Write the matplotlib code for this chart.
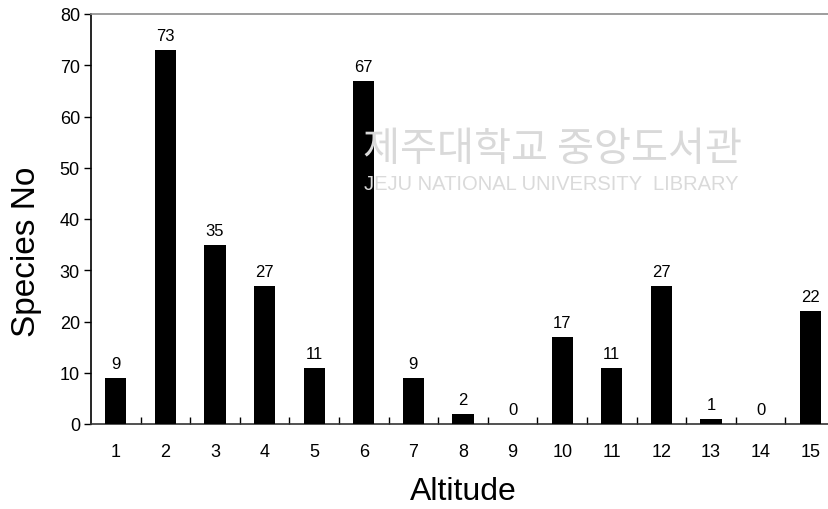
"""Species count per altitude class, bar chart with value labels."""
import matplotlib.pyplot as plt
from matplotlib.ticker import FixedLocator

plt.rcParams.update(
    {
        "font.family": ["Liberation Sans", "DejaVu Sans"],
        "figure.dpi": 100,
    }
)

# Altitude classes and number of species found in each.
altitude = [1, 2, 3, 4, 5, 6, 7, 8, 9, 10, 11, 12, 13, 14, 15]
species_no = [9, 73, 35, 27, 11, 67, 9, 2, 0, 17, 11, 27, 1, 0, 22]
y_ticks = [0, 10, 20, 30, 40, 50, 60, 70, 80]

fig = plt.figure(figsize=(8.29, 5.10))
# The plot area runs past the right edge of the picture, as in the source.
ax = fig.add_axes([91 / 829, 85 / 510, 744 / 829, 410 / 510])

# faint library watermark behind the bars
fig.text(0.666, 0.706, "제주대학교 중앙도서관", fontsize=29, color="#d9d9d9",
         family=["Noto Sans CJK KR", "DejaVu Sans"], ha="center", va="center", zorder=0)
fig.text(0.665, 0.639, "JEJU NATIONAL UNIVERSITY  LIBRARY", fontsize=14.5, color="#dadada",
         family=["Liberation Sans", "DejaVu Sans"], ha="center", va="center", zorder=0)
ax.set_facecolor("none")

bars = ax.bar(altitude, species_no, width=0.43, color="black", zorder=3)
ax.bar_label(bars, padding=5, fontsize=12)

ax.set_xlim(0.5, 15.5)
ax.set_ylim(0, 80)
ax.set_yticks(y_ticks)
ax.set_xticks(altitude)
ax.xaxis.set_minor_locator(FixedLocator([a + 0.5 for a in altitude[:-1]]))
ax.tick_params(axis="x", which="major", length=0, pad=14, labelsize=13)
ax.tick_params(axis="x", which="minor", direction="in", length=5, width=1)
ax.tick_params(axis="y", direction="out", length=5, width=1, pad=3, labelsize=13)

ax.spines["right"].set_visible(False)
ax.spines["top"].set_color("#8c8c8c")
ax.spines["top"].set_linewidth(1.2)
ax.spines["left"].set_linewidth(1.2)
ax.spines["bottom"].set_color("#333333")
ax.spines["bottom"].set_linewidth(1.2)

ax.set_xlabel("Altitude", fontsize=23)
ax.set_ylabel("Species No", fontsize=24)
ax.xaxis.set_label_coords(0.5, -0.127)
ax.yaxis.set_label_coords(-0.066, 0.422)

fig.savefig("out.png", dpi=100)
